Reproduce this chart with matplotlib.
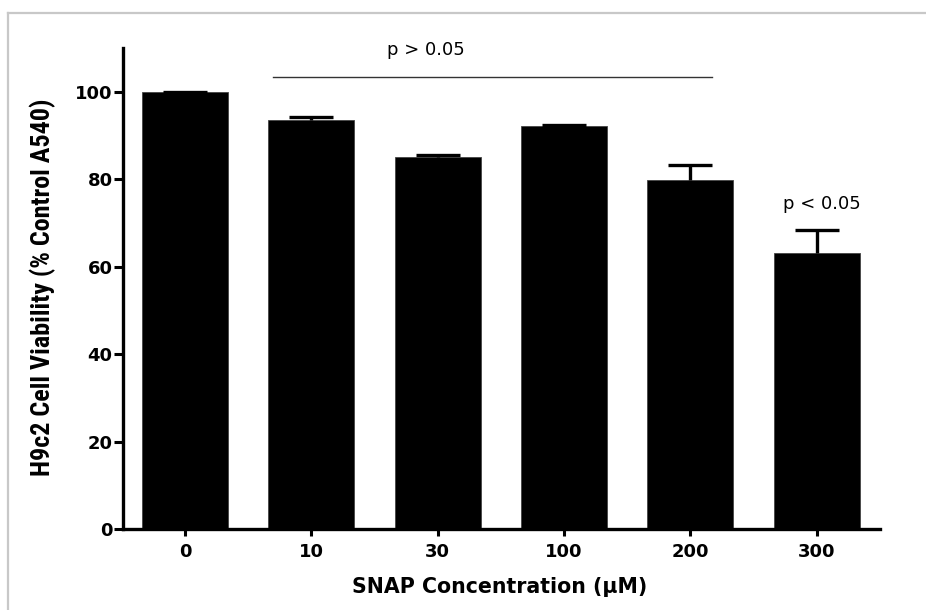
import numpy as np
import matplotlib
matplotlib.use("Agg")
import matplotlib.pyplot as plt
from matplotlib.lines import Line2D
from matplotlib import font_manager

# data
conc_labels = ["0", "10", "30", "100", "200", "300"]
viability = [100.0, 93.6, 85.0, 92.2, 79.9, 63.1]
sem = [0.0, 0.6, 0.5, 0.3, 3.3, 5.3]

ns_text = "p > 0.05"
sig_text = "p < 0.05"

# a narrow bold face for the y label, if one is around
installed = {f.name for f in font_manager.fontManager.ttflist}
narrow = [n for n in ("Liberation Sans Narrow", "Arial Narrow", "Roboto Condensed",
                      "Open Sans Condensed") if n in installed]
ylab_family = narrow[0] if narrow else "DejaVu Sans"

fig = plt.figure(figsize=(9.26, 6.10), dpi=100)
ax = fig.add_axes([123 / 926, 1 - 529 / 610, 757 / 926, 481 / 610])

x = np.arange(len(conc_labels))
ax.bar(x, viability, width=0.68, color="black", edgecolor="#444444", linewidth=0.6, zorder=2)
_, caps, _ = ax.errorbar(x, viability, yerr=[np.zeros(len(sem)), sem], fmt="none",
                         ecolor="black", elinewidth=2.4, capsize=16, capthick=2.4, zorder=3)
caps[0].set_visible(False)  # only the upper cap

ax.set_xlim(-0.49, 5.5)
ax.set_ylim(0, 110)
ax.set_xticks(x)
ax.set_xticklabels(conc_labels)
ax.set_yticks([0, 20, 40, 60, 80, 100])

for side in ("top", "right"):
    ax.spines[side].set_visible(False)
for side in ("left", "bottom"):
    ax.spines[side].set_linewidth(2.4)

ax.tick_params(axis="y", direction="out", length=6.5, width=2.2, pad=1,
               labelsize=13)
ax.tick_params(axis="x", direction="out", length=5, width=2.2, pad=5,
               labelsize=13)
for lab in ax.get_xticklabels() + ax.get_yticklabels():
    lab.set_fontweight("bold")
    lab.set_family("DejaVu Sans")

ax.set_xlabel("SNAP Concentration (\u00b5M)", fontsize=14.8, fontweight="bold",
              family="DejaVu Sans")
ax.xaxis.set_label_coords(0.498, -0.100)
ylab = ax.set_ylabel("H9c2 Cell Viability (% Control A540)", fontsize=16,
                     fontweight="bold", family=ylab_family, fontstretch="condensed")
ax.yaxis.set_label_coords(-0.088, 0.503)

# scale the y label so it spans about the same height as the original
renderer = fig.canvas.get_renderer()
h = ylab.get_window_extent(renderer).height
ylab.set_fontsize(min(19, 16 * 377 / h))

# significance annotations
ax.plot([0.7, 4.17], [103.3, 103.3], color="#333333", lw=1.0, clip_on=False)
ax.text(1.905, 108.5, ns_text, ha="center", va="baseline", fontsize=13,
        family="DejaVu Sans")
ax.text(5.04, 73.2, sig_text, ha="center", va="baseline", fontsize=13,
        family="DejaVu Sans")

# light frame on the left and top edge
fig.add_artist(Line2D([8 / 926, 8 / 926], [0, 1 - 13 / 610],
                      transform=fig.transFigure, color="#c8c8c8", lw=1.6))
fig.add_artist(Line2D([8 / 926, 1], [1 - 13 / 610, 1 - 13 / 610],
                      transform=fig.transFigure, color="#c8c8c8", lw=1.6))

fig.savefig("out.png", dpi=100)
